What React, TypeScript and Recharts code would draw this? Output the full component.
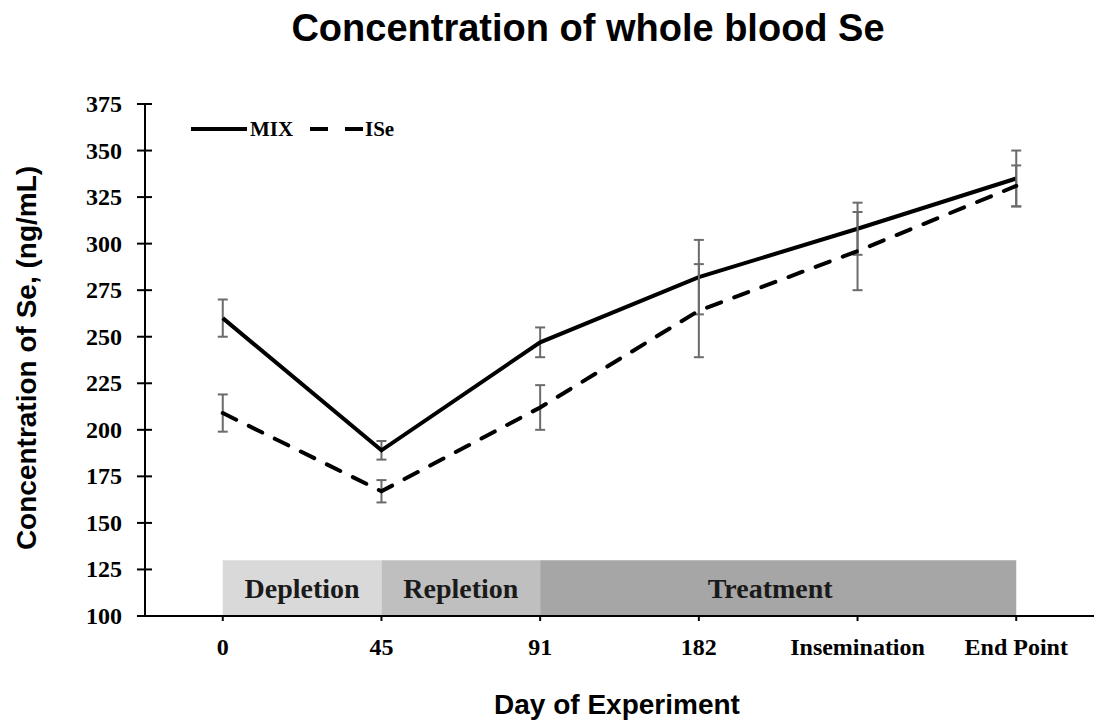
import {
  ErrorBar,
  Line,
  LineChart,
  ReferenceArea,
  XAxis,
  YAxis,
} from "recharts";

const categories = ["0", "45", "91", "182", "Insemination", "End Point"];
const mixValues = [260, 189, 247, 282, 308, 335];
const mixErrors = [10, 5, 8, 20, 14, 15];
const iseValues = [209, 167, 212, 264, 296, 331];
const iseErrors = [10, 6, 12, 25, 21, 11];
const yTicks = [100, 125, 150, 175, 200, 225, 250, 275, 300, 325, 350, 375];

// phases run from one category index to another
const phaseNames = ["Depletion", "Repletion", "Treatment"];
const phaseStart = [0, 1, 2];
const phaseEnd = [1, 2, 5];
const phaseFills = ["#d9d9d9", "#bfbfbf", "#a6a6a6"];
const phaseTop = 130;

const data = categories.map((c, i) => ({
  idx: i,
  label: c,
  mix: mixValues[i],
  mixErr: mixErrors[i],
  ise: iseValues[i],
  iseErr: iseErrors[i],
}));

const serif = "'Liberation Serif', 'Times New Roman', serif";
const sans = "'Liberation Sans', Arial, sans-serif";

function YTick(props: any) {
  const { x, y, payload } = props;
  return (
    <g>
      <line x1={x - 8} x2={x + 7} y1={y} y2={y} stroke="#000" strokeWidth={2} />
      <text
        x={x - 23}
        y={y}
        textAnchor="end"
        dominantBaseline="central"
        fontFamily={serif}
        fontWeight="bold"
        fontSize={24}
        fill="#000"
      >
        {payload.value}
      </text>
    </g>
  );
}

function XTick(props: any) {
  const { x, y, payload } = props;
  return (
    <g>
      <line x1={x} x2={x} y1={y} y2={y + 5} stroke="#000" strokeWidth={2} />
      <text
        x={x}
        y={y + 31}
        textAnchor="middle"
        dominantBaseline="central"
        fontFamily={serif}
        fontWeight="bold"
        fontSize={24}
        fill="#000"
      >
        {categories[payload.value]}
      </text>
    </g>
  );
}

export default function App() {
  return (
    <div
      style={{
        position: "absolute",
        left: 0,
        top: 0,
        width: 1094,
        height: 723,
        background: "#fff",
      }}
    >
      <div
        style={{
          position: "absolute",
          left: 0,
          width: 1176,
          top: 5,
          textAlign: "center",
          fontFamily: sans,
          fontWeight: "bold",
          fontSize: 38,
          lineHeight: "46px",
          color: "#000",
        }}
      >
        Concentration of whole blood Se
      </div>

      <LineChart
        width={1094}
        height={723}
        data={data}
        margin={{ top: 104, right: 0, left: 0, bottom: 0 }}
      >
        <XAxis
          dataKey="idx"
          type="number"
          domain={[-0.49, 5.49]}
          ticks={[0, 1, 2, 3, 4, 5]}
          allowDataOverflow
          height={107}
          tickSize={0}
          tickMargin={0}
          tickLine={false}
          axisLine={{ stroke: "#000", strokeWidth: 2 }}
          tick={<XTick />}
          interval={0}
        />
        <YAxis
          type="number"
          domain={[100, 375]}
          ticks={yTicks}
          width={145}
          tickSize={0}
          tickMargin={0}
          tickLine={false}
          axisLine={{ stroke: "#000", strokeWidth: 2 }}
          tick={<YTick />}
          interval={0}
        />
        {phaseNames.map((name, i) => (
          <ReferenceArea
            key={name}
            x1={phaseStart[i]}
            x2={phaseEnd[i]}
            y1={100}
            y2={phaseTop}
            fill={phaseFills[i]}
            fillOpacity={1}
            stroke="none"
            label={{
              value: name,
              position: "center",
              fontFamily: serif,
              fontWeight: "bold",
              fontSize: 28,
              fill: "#1a1a1a",
              dx: name === "Treatment" ? -8 : 0,
            }}
          />
        ))}
        <Line
          dataKey="mix"
          stroke="#000"
          strokeWidth={4}
          dot={false}
          activeDot={false}
          isAnimationActive={false}
        >
          <ErrorBar
            dataKey="mixErr"
            direction="y"
            width={5}
            stroke="#6b6b6b"
            strokeWidth={2}
          />
        </Line>
        <Line
          dataKey="ise"
          stroke="#000"
          strokeWidth={4}
          strokeDasharray="15 14"
          strokeLinecap="round"
          dot={false}
          activeDot={false}
          isAnimationActive={false}
        >
          <ErrorBar
            dataKey="iseErr"
            direction="y"
            width={5}
            stroke="#6b6b6b"
            strokeWidth={2}
          />
        </Line>
      </LineChart>

      {/* legend */}
      <svg
        width={240}
        height={30}
        style={{ position: "absolute", left: 185, top: 114 }}
      >
        <line x1={6} x2={62} y1={15} y2={15} stroke="#000" strokeWidth={4} />
        <text
          x={65}
          y={15}
          dominantBaseline="central"
          fontFamily={serif}
          fontWeight="bold"
          fontSize={21}
        >
          MIX
        </text>
        <line
          x1={125}
          x2={178}
          y1={15}
          y2={15}
          stroke="#000"
          strokeWidth={4}
          strokeDasharray="18 17"
        />
        <text
          x={180}
          y={15}
          dominantBaseline="central"
          fontFamily={serif}
          fontWeight="bold"
          fontSize={21}
        >
          ISe
        </text>
      </svg>

      <div
        style={{
          position: "absolute",
          left: 27,
          top: 358,
          transform: "translate(-50%, -50%) rotate(-90deg)",
          whiteSpace: "nowrap",
          fontFamily: sans,
          fontWeight: "bold",
          fontSize: 28,
          color: "#000",
        }}
      >
        Concentration of Se, (ng/mL)
      </div>
      <div
        style={{
          position: "absolute",
          left: 617,
          top: 705,
          transform: "translate(-50%, -50%)",
          whiteSpace: "nowrap",
          fontFamily: sans,
          fontWeight: "bold",
          fontSize: 28,
          color: "#000",
        }}
      >
        Day of Experiment
      </div>
    </div>
  );
}
